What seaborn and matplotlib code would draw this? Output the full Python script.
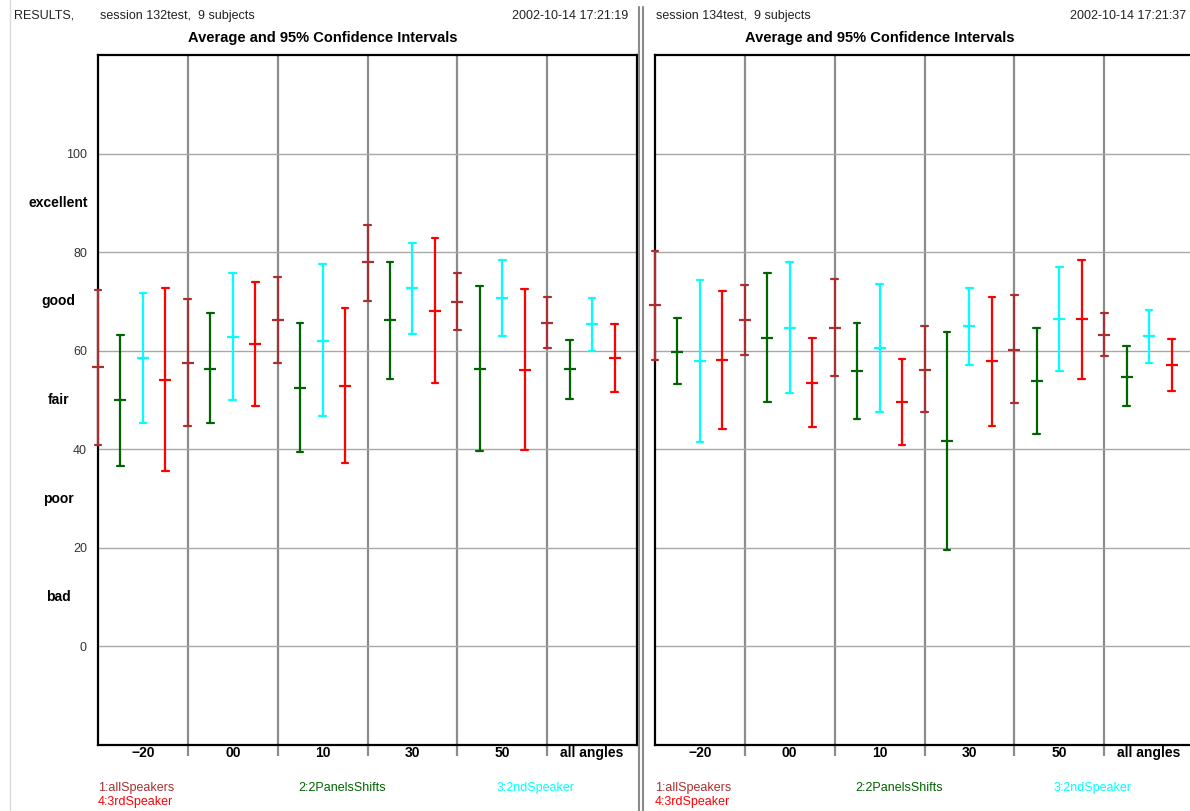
import matplotlib
matplotlib.use("Agg")
import numpy as np
import pandas as pd
import matplotlib.pyplot as plt
import seaborn as sns
from matplotlib.transforms import blended_transform_factory
from matplotlib.lines import Line2D

# ---------------- data ----------------
angles = ["\u221220", "00", "10", "30", "50", "all angles"]
conditions = ["1:allSpeakers", "2:2PanelsShifts", "3:2ndSpeaker", "4:3rdSpeaker"]
quality_labels = ["excellent", "good", "fair", "poor", "bad"]
quality_values = [90, 70, 50, 30, 10]
y_ticks = [0, 20, 40, 60, 80, 100]

# session 132test (rows = conditions, columns = angles)
s132_low = [
    [40.9, 44.8, 57.5, 70.0, 64.2, 60.6],
    [36.7, 45.3, 39.4, 54.3, 39.6, 50.3],
    [45.3, 50.1, 46.7, 63.4, 63.0, 60.0],
    [35.6, 48.7, 37.2, 53.4, 39.8, 51.7],
]
s132_mean = [
    [56.6, 57.5, 66.2, 77.9, 69.8, 65.6],
    [49.9, 56.3, 52.5, 66.3, 56.3, 56.3],
    [58.6, 62.8, 62.0, 72.7, 70.7, 65.4],
    [54.1, 61.4, 52.9, 68.0, 56.1, 58.6],
]
s132_high = [
    [72.3, 70.5, 75.0, 85.6, 75.7, 70.9],
    [63.2, 67.7, 65.7, 78.1, 73.1, 62.2],
    [71.7, 75.8, 77.6, 81.9, 78.5, 70.7],
    [72.7, 74.0, 68.7, 82.9, 72.5, 65.5],
]

# session 134test
s134_low = [
    [58.2, 59.2, 54.9, 47.5, 49.3, 59.0],
    [53.2, 49.5, 46.1, 19.5, 43.2, 48.7],
    [41.5, 51.5, 47.5, 57.1, 55.9, 57.6],
    [44.2, 44.6, 40.8, 44.8, 54.3, 51.9],
]
s134_mean = [
    [69.2, 66.2, 64.6, 56.1, 60.2, 63.1],
    [59.8, 62.6, 55.9, 41.6, 53.9, 54.7],
    [58.0, 64.6, 60.6, 65.0, 66.4, 63.0],
    [58.2, 53.5, 49.5, 58.0, 66.4, 57.1],
]
s134_high = [
    [80.3, 73.3, 74.5, 65.0, 71.3, 67.6],
    [66.6, 75.7, 65.6, 63.8, 64.6, 61.0],
    [74.4, 77.9, 73.5, 72.7, 76.9, 68.2],
    [72.1, 62.6, 58.4, 70.9, 78.5, 62.3],
]

colors = ["#a83030", "#006400", "#00ffff", "#ff0000"]
palette = dict(zip(conditions, colors))


def long_frame(low, mean, high):
    rows = []
    for ci, cond in enumerate(conditions):
        for ai, ang in enumerate(angles):
            for v in (low[ci][ai], mean[ci][ai], high[ci][ai]):
                rows.append({"angle": ang, "condition": cond, "value": v})
    return pd.DataFrame(rows)


# ---------------- style ----------------
sns.set_theme(style="white")
plt.rcParams["font.family"] = ["Liberation Sans", "DejaVu Sans"]

W, H = 1190, 811
fig = plt.figure(figsize=(W / 100, H / 100), dpi=100)
fig.patch.set_facecolor("white")


def fx(px):
    return px / W


def fy(py):
    return 1 - py / H


ax_top = 55
ax_bottom = 745
ax_w = 539
panels = [
    (98, s132_low, s132_mean, s132_high, True),
    (655, s134_low, s134_mean, s134_high, False),
]

dodge = 0.75
x0 = -dodge / 2
for left_px, lo, me, hi, show_y in panels:
    ax = fig.add_axes([fx(left_px), fy(ax_bottom), ax_w / W, (ax_bottom - ax_top) / H])
    df = long_frame(lo, me, hi)
    sns.pointplot(
        data=df, x="angle", y="value", hue="condition",
        order=angles, hue_order=conditions, palette=palette,
        estimator="median", errorbar=lambda v: (np.min(v), np.max(v)),
        dodge=dodge, linestyle="none", marker="_",
        markersize=8, markeredgewidth=1.6,
        capsize=0.075, err_kws={"linewidth": 1.6},
        legend=False, ax=ax,
    )
    for art in list(ax.lines) + list(ax.collections):
        art.set_zorder(3)
        art.set_clip_on(False)
    ax.set_xlim(x0, x0 + len(angles))
    ax.set_ylim(-20, 120)
    ax.set_xlabel("")
    ax.set_ylabel("")

    # group separators (major ticks + grid), labels on minor ticks
    seps = [x0 + k for k in range(1, len(angles))]
    ax.set_xticks(seps)
    ax.set_xticklabels([])
    ax.set_xticks([x0 + k + 0.5 for k in range(len(angles))], minor=True)
    ax.set_xticklabels(angles, minor=True, fontsize=10, fontweight="bold", color="black")
    ax.tick_params(axis="x", which="major", length=8, width=1.6, color="#8c8c8c", direction="out", bottom=True)
    ax.tick_params(axis="x", which="minor", length=0, pad=1)
    ax.xaxis.grid(True, which="major", color="#8c8c8c", linewidth=1.6)

    ax.set_yticks(y_ticks)
    ax.yaxis.grid(True, color="#a8a8a8", linewidth=1.0)
    if show_y:
        ax.set_yticklabels([str(t) for t in y_ticks], fontsize=9, color="#333333")
        ax.tick_params(axis="y", length=0, pad=8)
        tr = blended_transform_factory(ax.transAxes, ax.transData)
        for lab, val in zip(quality_labels, quality_values):
            ax.text(-0.073, val, lab, transform=tr, ha="center", va="center",
                    fontsize=10, fontweight="bold", color="black")
    else:
        ax.set_yticklabels([])
        ax.tick_params(axis="y", length=0)
    ax.set_axisbelow(True)
    for s in ax.spines.values():
        s.set_color("black")
        s.set_linewidth(1.6)
        s.set_visible(True)
        s.set_zorder(2.5)

# ---------------- header / footer texts ----------------
hdr = dict(fontsize=9, color="#222222", va="center")
fig.text(fx(14), fy(16), "RESULTS,", ha="left", **hdr)
fig.text(fx(100), fy(16), "session 132test,  9 subjects", ha="left", **hdr)
fig.text(fx(628), fy(16), "2002\u201010\u201014 17:21:19", ha="right", **hdr)
fig.text(fx(323), fy(38), "Average and 95% Confidence Intervals", ha="center", va="center",
         fontsize=10.5, fontweight="bold", color="black")
fig.text(fx(656), fy(16), "session 134test,  9 subjects", ha="left", **hdr)
fig.text(fx(1186), fy(16), "2002\u201010\u201014 17:21:37", ha="right", **hdr)
fig.text(fx(880), fy(38), "Average and 95% Confidence Intervals", ha="center", va="center",
         fontsize=10.5, fontweight="bold", color="black")

leg_pos = [(0, 0), (200, 0), (399, 0), (0, 14)]
for base in (98, 655):
    for (dx, dy), cond, col in zip(leg_pos, conditions, colors):
        fig.text(fx(base + dx), fy(788 + dy), cond, ha="left", va="center",
                 fontsize=9, color=col)

# window decorations: left border and panel divider
fig.add_artist(Line2D([fx(10), fx(10)], [0, 1], color="#d8d8d8", linewidth=1.0))
fig.add_artist(Line2D([fx(639), fx(639)], [0, fy(7)], color="#8a8a8a", linewidth=1.5))
fig.add_artist(Line2D([fx(642.5), fx(642.5)], [0, fy(7)], color="#8a8a8a", linewidth=1.5))

fig.savefig("out.png", dpi=100, facecolor="white")
